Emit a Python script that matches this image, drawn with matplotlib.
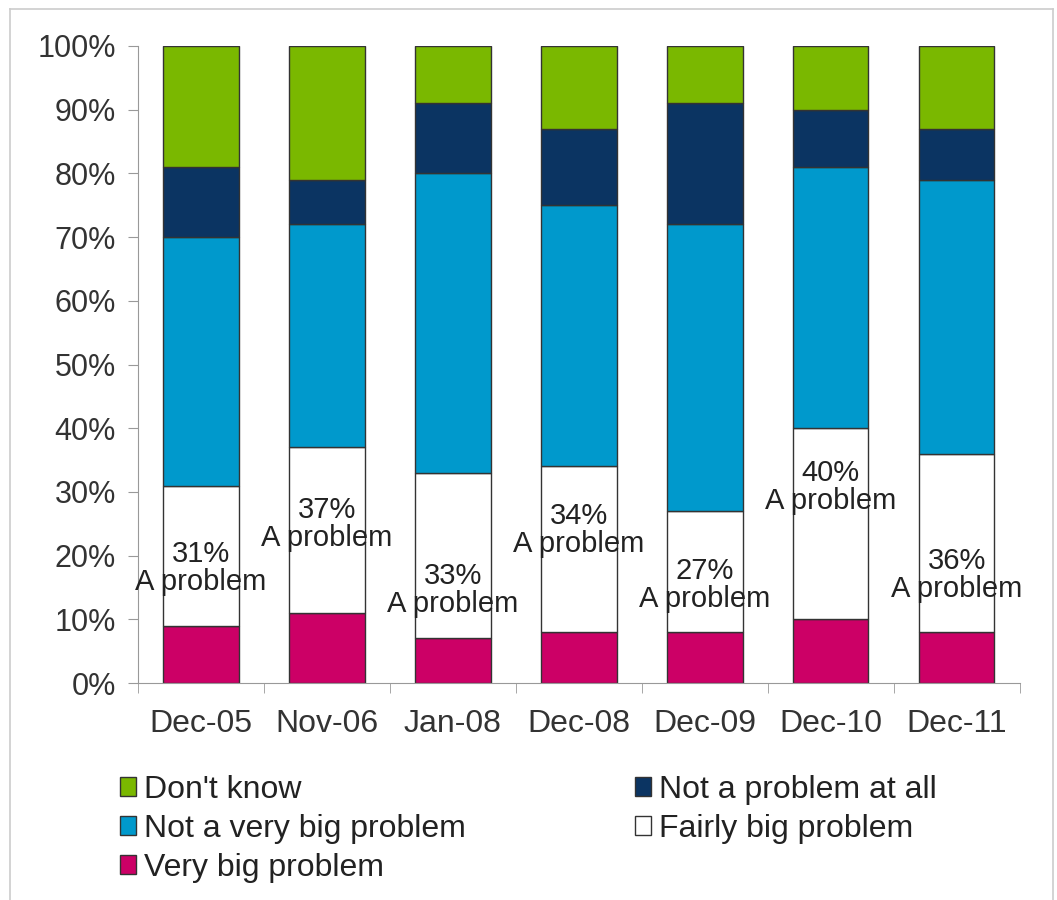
import matplotlib.pyplot as plt
from matplotlib.lines import Line2D

plt.rcParams['font.family'] = ['Liberation Sans', 'DejaVu Sans']

dates = ["Dec-05", "Nov-06", "Jan-08", "Dec-08", "Dec-09", "Dec-10", "Dec-11"]

very_big = [9, 11, 7, 8, 8, 10, 8]
fairly_big = [22, 26, 26, 26, 19, 30, 28]
not_very_big = [39, 35, 47, 41, 45, 41, 43]
not_at_all = [11, 7, 11, 12, 19, 9, 8]
dont_know = [19, 21, 9, 13, 9, 10, 13]

problem_total = [31, 37, 33, 34, 27, 40, 36]
# where the "A problem" notes sit (y, in %)
note_y = [18, 25, 14.6, 24, 15.4, 30.8, 17]

fig = plt.figure(figsize=(10.57, 9), dpi=100)
ax = fig.add_axes([0.1306, 0.241, 0.834, 0.708])

x = range(len(dates))
w = 0.6
ec = '#333333'
lw = 1.0

series = [
    ("Very big problem", very_big, '#cc0066'),
    ("Fairly big problem", fairly_big, 'white'),
    ("Not a very big problem", not_very_big, '#0099cc'),
    ("Not a problem at all", not_at_all, '#0b3462'),
    ("Don't know", dont_know, '#7ab800'),
]

bottom = [0] * len(dates)
bars = {}
for name, vals, col in series:
    b = ax.bar(x, vals, w, bottom=bottom, color=col, edgecolor=ec, linewidth=lw, label=name)
    bars[name] = b
    bottom = [a + v for a, v in zip(bottom, vals)]

for i, (t, yy) in enumerate(zip(problem_total, note_y)):
    ax.text(i, yy, f"{t}%\nA problem", ha='center', va='center', fontsize=21,
            color='#222222', linespacing=1.0)

ax.set_xlim(-0.5, len(dates) - 0.5)
ax.set_ylim(0, 100)
ax.set_yticks(range(0, 101, 10))
ax.set_yticklabels([f"{v}%" for v in range(0, 101, 10)])
ax.set_xticks(list(x))
ax.set_xticklabels(dates)
ax.set_xticks([i + 0.5 for i in range(-1, len(dates))], minor=True)
ax.tick_params(axis='x', which='major', length=0, pad=19, labelsize=23, labelcolor='#333333')
ax.tick_params(axis='x', which='minor', length=7, color='#999999', direction='out')
ax.tick_params(axis='y', length=7, color='#999999', labelsize=22, labelcolor='#333333', pad=9)

for s in ['top', 'right']:
    ax.spines[s].set_visible(False)
for s in ['left', 'bottom']:
    ax.spines[s].set_color('#999999')

order = ["Don't know", "Not a very big problem", "Very big problem",
         "Not a problem at all", "Fairly big problem"]
fig.legend([bars[n] for n in order], order, ncol=2, loc='upper left',
           bbox_to_anchor=(0.086, 0.171), frameon=False, fontsize=23,
           handlelength=0.5, handleheight=0.5, handletextpad=0.25,
           columnspacing=5.3, labelspacing=0.28, labelcolor='#222222')

# light frame around the whole chart
fig.add_artist(Line2D([10/1057, 10/1057], [0, 891/900], color='#cccccc', lw=1.2, transform=fig.transFigure))
fig.add_artist(Line2D([10/1057, 1053/1057], [891/900, 891/900], color='#cccccc', lw=1.2, transform=fig.transFigure))
fig.add_artist(Line2D([1053/1057, 1053/1057], [0, 891/900], color='#cccccc', lw=1.2, transform=fig.transFigure))

fig.savefig("out.png", dpi=100)
